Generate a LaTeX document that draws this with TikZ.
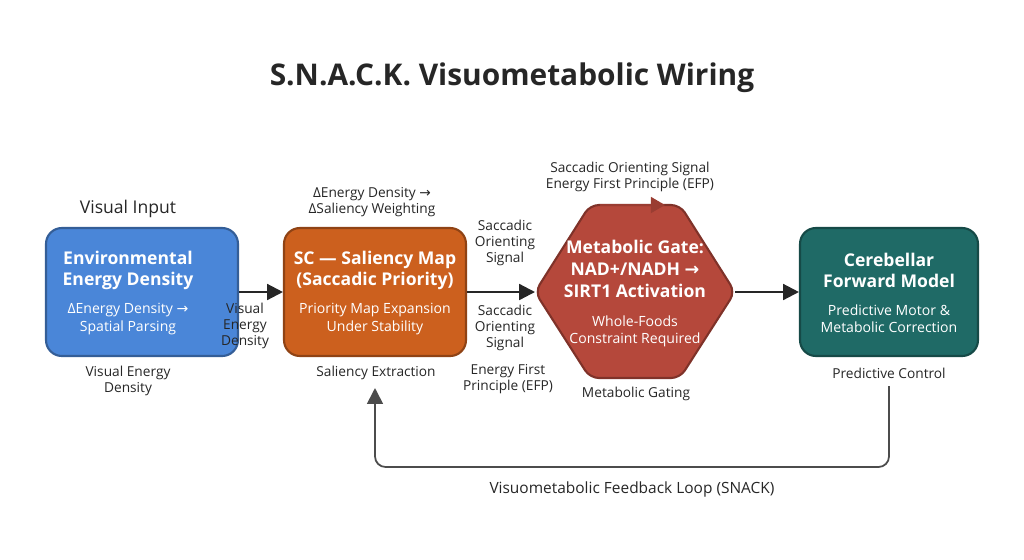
\documentclass[tikz,border=0pt]{standalone}
\usepackage{fontspec}
\setmainfont{Open Sans}
\newfontfamily\arrowfont{DejaVu Sans}
\newcommand{\rarr}{{\arrowfont →}}
\usetikzlibrary{positioning, calc, arrows.meta}
\definecolor{envblue}{HTML}{4A86D8}
\definecolor{scorange}{HTML}{CC601E}
\definecolor{gatered}{HTML}{B5483B}
\definecolor{cbteal}{HTML}{1F6A66}
\tikzset{
  box/.style={draw=#1!70!black, fill=#1, line width=1.2pt, rounded corners=9pt, minimum width=3.72cm, minimum height=2.56cm, text=white, align=center},
  caption/.style={font=\fontsize{7.8}{9.3}\selectfont, align=center, text=black!85},
  head/.style={font=\fontsize{10}{12}\selectfont\bfseries, text=white, align=center},
  sub/.style={font=\fontsize{8}{9.8}\selectfont, text=white, align=center},
  flow/.style={-{Triangle[length=9pt,width=9pt]}, line width=1.3pt, draw=black!85},
}
\begin{document}
\begin{tikzpicture}[x=0.02cm, y=-0.02cm]
  \useasboundingbox (0,0) rectangle (1024,559);
  \node[font=\fontsize{17}{20}\selectfont\bfseries, text=black!85] (title) at (512,78) {S.N.A.C.K. Visuometabolic Wiring};
  % boxes
  \node[box=envblue, minimum width=3.84cm] (env) at (142,292) {};
  \node[box=scorange, minimum width=3.64cm] (sc) at (375,292) {};
  \node[box=cbteal, minimum width=3.56cm] (cb) at (889,292) {};
  \node[head] at (128,270) {Environmental\\Energy Density};
  \node[sub] at (128,319) {ΔEnergy Density \rarr\\Spatial Parsing};
  \node[head] at (375,270) {SC — Saliency Map\\(Saccadic Priority)};
  \node[sub] at (375,319) {Priority Map Expansion\\Under Stability};
  \node[head] at (889,270) {Cerebellar\\Forward Model};
  \node[sub] at (889,319) {Predictive Motor \&\\Metabolic Correction};
  % hexagon
  \draw[draw=gatered!70!black, fill=gatered, line width=1.2pt, rounded corners=5pt]
    (535,292) -- (590,205) -- (680,205) -- (735,292) -- (680,378) -- (590,378) -- cycle;
  \coordinate (gatein) at (535,292);
  \coordinate (gateout) at (735,292);
  \draw[-{Triangle[length=8pt,width=9pt]}, line width=1.2pt, draw=gatered!85!black] (600,205) -- (665,205);
  \node[head, font=\fontsize{10}{12.5}\selectfont\bfseries] (gate) at (635,269) {Metabolic Gate:\\NAD+/NADH \rarr\\SIRT1 Activation};
  \node[sub] at (635,331) {Whole-Foods\\Constraint Required};
  % flows
  \draw[flow] (env) -- (sc);
  \draw[flow] (sc) -- (gatein);
  \draw[flow] (gateout) -- (cb);
  \coordinate (fbA) at (889,467);
  \coordinate (fbB) at (375,467);
  \coordinate (fbC) at (375,388);
  \draw[-{Triangle[length=9pt,width=9pt]}, line width=1pt, draw=black!70, rounded corners=6pt] (889,386) -- (fbA) -- (fbB) -- (fbC);
  % captions
  \node[font=\fontsize{10}{12}\selectfont, text=black!85] at (128,209) {Visual Input};
  \node[caption] at (128,381) {Visual Energy\\Density};
  \node[caption] at (376,373) {Saliency Extraction};
  \node[caption] at (636,394) {Metabolic Gating};
  \node[caption] at (889,373) {Predictive Control};
  \node[caption] at (245,326) {Visual\\Energy\\Density};
  \node[caption] at (372,202) {ΔEnergy Density \rarr\\ΔSaliency Weighting};
  \node[caption] at (505,243) {Saccadic\\Orienting\\Signal};
  \node[caption] at (505,328) {Saccadic\\Orienting\\Signal};
  \node[caption] at (508,379) {Energy First\\Principle (EFP)};
  \node[caption] at (630,177) {Saccadic Orienting Signal\\Energy First Principle (EFP)};
  \node[font=\fontsize{8.8}{11}\selectfont, text=black!85] at (632,489) {Visuometabolic Feedback Loop (SNACK)};
\end{tikzpicture}
\end{document}
